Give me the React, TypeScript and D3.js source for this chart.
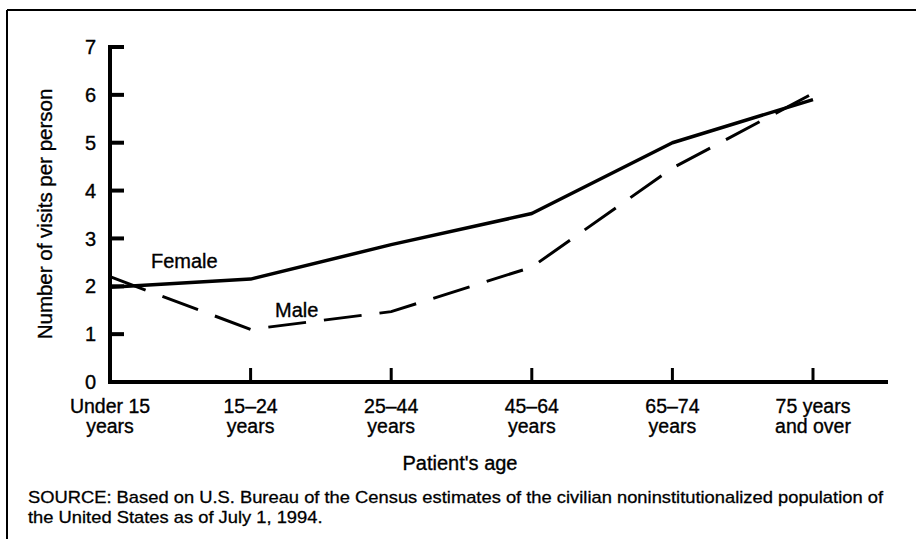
import React, { useEffect, useRef } from 'react'
import * as d3 from 'd3'

const ageGroups = ['Under 15', '15-24', '25-44', '45-64', '65-74', '75+']
const ageLine1 = ['Under 15', '15\u201324', '25\u201344', '45\u201364', '65\u201374', '75 years']
const ageLine2 = ['years', 'years', 'years', 'years', 'years', 'and over']
const femaleVisits = [1.98, 2.15, 2.87, 3.52, 5.0, 5.9]
const maleVisits = [2.2, 1.1, 1.47, 2.4, 4.47, 6.03]
const yTicks = [0, 1, 2, 3, 4, 5, 6, 7]
const sourceLines = [
    'SOURCE: Based on U.S. Bureau of the Census estimates of the civilian noninstitutionalized population of',
    'the United States as of July 1, 1994.',
]

function App() {
    const ref = useRef<SVGSVGElement>(null)

    useEffect(() => {
        draw()
    }, [])

    const draw = () => {
        const width = 916
        const height = 539
        const font = '"Liberation Sans", Arial, Helvetica, sans-serif'
        const ink = 0.35 // slight stroke to mimic the heavier scanned type

        const svg = d3.select(ref.current)
        svg.selectAll('*').remove()
        svg.attr('width', width).attr('height', height)

        // frame (top and left edges only, as scanned)
        svg.append('line')
            .attr('x1', 7).attr('x2', width).attr('y1', 10).attr('y2', 10)
            .attr('stroke', '#000').attr('stroke-width', 2)
        svg.append('line')
            .attr('x1', 7).attr('x2', 7).attr('y1', 10).attr('y2', height)
            .attr('stroke', '#000').attr('stroke-width', 2)

        const xScale = d3.scalePoint<string>()
            .domain(ageGroups)
            .range([110, 813])
        const yScale = d3.scaleLinear()
            .domain([0, 7])
            .range([382, 47])

        const g = svg.append('g')

        // y axis with inward ticks
        g.append('line')
            .attr('x1', 110).attr('x2', 110)
            .attr('y1', yScale(7) - 2).attr('y2', yScale(0) + 2)
            .attr('stroke', '#000').attr('stroke-width', 4)
        g.selectAll('.ytick')
            .data(yTicks)
            .enter()
            .append('line')
            .attr('class', 'ytick')
            .attr('x1', 110).attr('x2', 124)
            .attr('y1', d => yScale(d)).attr('y2', d => yScale(d))
            .attr('stroke', '#000').attr('stroke-width', 4)
        g.selectAll('.ylabel')
            .data(yTicks)
            .enter()
            .append('text')
            .attr('class', 'ylabel')
            .attr('x', 96)
            .attr('y', d => yScale(d))
            .attr('dy', '0.36em')
            .attr('text-anchor', 'end')
            .attr('font-family', font)
            .attr('font-size', 20)
            .attr('stroke', '#000').attr('stroke-width', ink)
            .text(d => d)

        // x axis with upward ticks
        g.append('line')
            .attr('x1', 108).attr('x2', 888)
            .attr('y1', yScale(0)).attr('y2', yScale(0))
            .attr('stroke', '#000').attr('stroke-width', 4)
        g.selectAll('.xtick')
            .data(ageGroups.slice(1))
            .enter()
            .append('line')
            .attr('class', 'xtick')
            .attr('x1', d => xScale(d)!).attr('x2', d => xScale(d)!)
            .attr('y1', yScale(0)).attr('y2', yScale(0) - 14)
            .attr('stroke', '#000').attr('stroke-width', 3)
        const xl = g.selectAll('.xlabel')
            .data(ageGroups)
            .enter()
            .append('text')
            .attr('class', 'xlabel')
            .attr('text-anchor', 'middle')
            .attr('font-family', font)
            .attr('font-size', 19.5)
            .attr('stroke', '#000').attr('stroke-width', ink)
        xl.append('tspan')
            .attr('x', d => xScale(d)!)
            .attr('y', 413)
            .text((d, i) => ageLine1[i])
        xl.append('tspan')
            .attr('x', d => xScale(d)!)
            .attr('y', 433)
            .text((d, i) => ageLine2[i])

        // axis titles
        svg.append('text')
            .attr('transform', 'translate(52,214) rotate(-90)')
            .attr('text-anchor', 'middle')
            .attr('font-family', font)
            .attr('font-size', 20.5)
            .attr('stroke', '#000').attr('stroke-width', ink)
            .text('Number of visits per person')
        svg.append('text')
            .attr('x', 460).attr('y', 470)
            .attr('text-anchor', 'middle')
            .attr('font-family', font)
            .attr('font-size', 20)
            .attr('stroke', '#000').attr('stroke-width', ink)
            .text("Patient's age")

        // series
        const line = d3.line<number>()
            .x((d, i) => xScale(ageGroups[i])!)
            .y(d => yScale(d))
        g.append('path')
            .datum(femaleVisits)
            .attr('fill', 'none')
            .attr('stroke', '#000')
            .attr('stroke-width', 3.5)
            .attr('stroke-linejoin', 'round')
            .attr('d', line)
        g.append('path')
            .datum(maleVisits)
            .attr('fill', 'none')
            .attr('stroke', '#000')
            .attr('stroke-width', 3)
            .attr('stroke-dasharray', '38 18')
            .attr('d', line)

        g.append('text')
            .attr('x', 151).attr('y', 268)
            .attr('font-family', font)
            .attr('font-size', 20)
            .attr('stroke', '#000').attr('stroke-width', ink)
            .text('Female')
        g.append('text')
            .attr('x', 275).attr('y', 317)
            .attr('font-family', font)
            .attr('font-size', 20)
            .attr('stroke', '#000').attr('stroke-width', ink)
            .text('Male')

        // source note, stretched to the width of the scanned note
        const src = svg.append('g')
            .attr('font-family', font)
            .attr('font-size', 17)
            .attr('stroke', '#000').attr('stroke-width', 0.3)
        const srcText = src.selectAll('text')
            .data(sourceLines)
            .enter()
            .append('text')
            .attr('x', 28)
            .attr('y', (d, i) => 503 + i * 20)
            .text(d => d)
        const nodes = srcText.nodes() as SVGTextElement[]
        const natural = nodes.map(n => n.getComputedTextLength())
        const ratio = natural[0] > 0 ? 855 / natural[0] : 1
        srcText
            .attr('textLength', (d, i) => natural[i] * ratio)
            .attr('lengthAdjust', 'spacingAndGlyphs')
    }

    return (
        <svg ref={ref} style={{ position: 'absolute', left: 0, top: 0, background: '#fff' }}></svg>
    )
}

export default App
